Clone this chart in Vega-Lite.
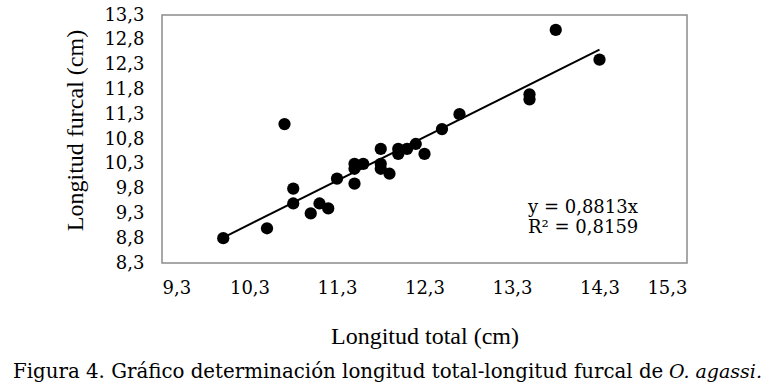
{
  "$schema": "https://vega.github.io/schema/vega-lite/v6.json",
  "autosize": {"type": "none"},
  "width": 525,
  "height": 248,
  "padding": {"left": 162, "top": 15, "right": 84, "bottom": 123},
  "background": "white",
  "config": {
    "view": {"stroke": "#8c8c8c", "strokeWidth": 1.5},
    "axis": {"grid": false, "ticks": false, "domain": false, "labelOverlap": false, "labelFont": "DejaVu Serif", "labelFontSize": 18, "labelColor": "#000", "titleFont": "Liberation Serif", "titleFontSize": 24, "titleFontWeight": "normal", "titleColor": "#000"}
  },
  "datasets": {
    "points": [
      {"lt": 10.0, "lf": 8.8}, {"lt": 10.5, "lf": 9.0}, {"lt": 10.7, "lf": 11.1}, {"lt": 10.8, "lf": 9.8},
      {"lt": 10.8, "lf": 9.5}, {"lt": 11.0, "lf": 9.3}, {"lt": 11.1, "lf": 9.5}, {"lt": 11.2, "lf": 9.4},
      {"lt": 11.3, "lf": 10.0}, {"lt": 11.5, "lf": 9.9}, {"lt": 11.5, "lf": 10.3}, {"lt": 11.5, "lf": 10.2},
      {"lt": 11.6, "lf": 10.3}, {"lt": 11.8, "lf": 10.6}, {"lt": 11.8, "lf": 10.3}, {"lt": 11.8, "lf": 10.2},
      {"lt": 11.9, "lf": 10.1}, {"lt": 12.0, "lf": 10.6}, {"lt": 12.0, "lf": 10.5}, {"lt": 12.1, "lf": 10.6},
      {"lt": 12.2, "lf": 10.7}, {"lt": 12.3, "lf": 10.5}, {"lt": 12.5, "lf": 11.0}, {"lt": 12.7, "lf": 11.3},
      {"lt": 13.5, "lf": 11.7}, {"lt": 13.5, "lf": 11.6}, {"lt": 13.8, "lf": 13.0}, {"lt": 14.3, "lf": 12.4}
    ],
    "trend": [
      {"lt": 10.0, "lf": 8.813},
      {"lt": 14.3, "lf": 12.603}
    ],
    "caption": [
      {"main": "Figura 4. Gráfico determinación longitud total-longitud furcal de ", "species": "O. agassi."}
    ]
  },
  "layer": [
    {
      "data": {"name": "trend"},
      "mark": {"type": "line", "color": "#000", "strokeWidth": 2},
      "encoding": {
        "x": {"field": "lt", "type": "quantitative", "scale": {"domain": [9.3, 15.3], "nice": false, "zero": false},
          "axis": {"values": [9.3, 10.3, 11.3, 12.3, 13.3, 14.3, 15.3], "tickCount": 20, "format": ".1f", "labelExpr": "replace(datum.label, '.', ',')", "labelOverlap": false, "labelPadding": 16, "title": "Longitud total (cm)", "titleY": 80, "titleBaseline": "alphabetic"}},
        "y": {"field": "lf", "type": "quantitative", "scale": {"domain": [8.3, 13.3], "nice": false, "zero": false},
          "axis": {"values": [8.3, 8.8, 9.3, 9.8, 10.3, 10.8, 11.3, 11.8, 12.3, 12.8, 13.3], "tickCount": 20, "format": ".1f", "labelExpr": "replace(datum.label, '.', ',')", "labelOverlap": false, "labelPadding": 18, "title": "Longitud furcal (cm)", "titleX": -87, "titleY": 115, "titleBaseline": "middle", "titleAngle": 270}}
      }
    },
    {
      "data": {"name": "points"},
      "mark": {"type": "circle", "color": "#000", "opacity": 1, "size": 150},
      "encoding": {
        "x": {"field": "lt", "type": "quantitative"},
        "y": {"field": "lf", "type": "quantitative"}
      }
    },
    {
      "data": {"values": [{}]},
      "mark": {"type": "text", "text": ["y = 0,8813x", "R² = 0,8159"], "font": "DejaVu Serif", "fontSize": 18, "align": "left", "baseline": "alphabetic", "lineHeight": 20, "color": "#000"},
      "encoding": {
        "x": {"datum": 13.483},
        "y": {"datum": 9.31}
      }
    },
    {
      "data": {"name": "caption"},
      "mark": {"type": "text", "font": "DejaVu Serif", "fontSize": 19.8, "align": "left", "baseline": "alphabetic", "color": "#000"},
      "encoding": {
        "x": {"datum": 7.597},
        "y": {"datum": 5.98},
        "text": {"field": "main"}
      }
    },
    {
      "data": {"name": "caption"},
      "mark": {"type": "text", "font": "DejaVu Serif", "fontSize": 19, "fontStyle": "italic", "align": "right", "baseline": "alphabetic", "color": "#000"},
      "encoding": {
        "x": {"datum": 16.157},
        "y": {"datum": 5.98},
        "text": {"field": "species"}
      }
    }
  ]
}
